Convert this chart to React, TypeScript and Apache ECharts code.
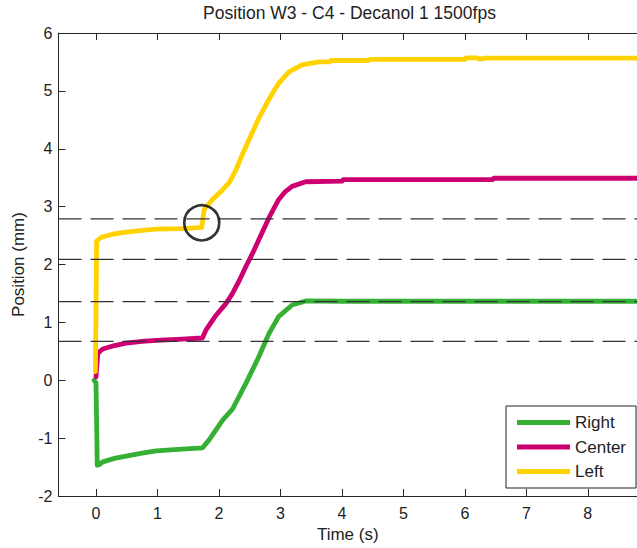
import React, { useEffect, useRef } from "react";
import * as echarts from "echarts";

const titleText = "Position W3 - C4 - Decanol 1 1500fps";
const xTicks = [0, 1, 2, 3, 4, 5, 6, 7, 8];
const yTicks = [-2, -1, 0, 1, 2, 3, 4, 5, 6];

const rightT = [-0.03, 0.0, 0.01, 0.02, 0.05, 0.11, 0.3, 0.49, 0.75, 0.98, 1.4, 1.73, 1.84, 2.06, 2.22, 2.44, 2.65, 2.81, 2.97, 3.19, 3.41, 4.0, 8.8];
const rightY = [0.0, -0.05, -0.7, -1.47, -1.46, -1.41, -1.35, -1.31, -1.26, -1.22, -1.19, -1.17, -1.03, -0.69, -0.5, -0.05, 0.41, 0.8, 1.1, 1.3, 1.37, 1.365, 1.365];

const centerT = [0.0, 0.01, 0.03, 0.11, 0.3, 0.49, 0.75, 0.98, 1.4, 1.73, 1.79, 1.95, 2.11, 2.22, 2.33, 2.44, 2.55, 2.65, 2.81, 2.97, 3.08, 3.19, 3.41, 4.0, 4.02, 6.45, 6.47, 8.8];
const centerY = [0.06, 0.2, 0.47, 0.54, 0.6, 0.64, 0.67, 0.69, 0.71, 0.73, 0.87, 1.12, 1.32, 1.5, 1.72, 1.97, 2.2, 2.43, 2.8, 3.12, 3.26, 3.35, 3.43, 3.44, 3.465, 3.465, 3.49, 3.49];

const leftT = [-0.01, 0.0, 0.01, 0.05, 0.11, 0.3, 0.49, 0.75, 0.98, 1.41, 1.72, 1.74, 1.76, 1.89, 2.05, 2.17, 2.27, 2.4, 2.49, 2.65, 2.81, 2.97, 3.14, 3.35, 3.62, 3.8, 3.82, 4.43, 4.45, 6.0, 6.02, 6.2, 6.22, 6.3, 6.32, 8.8];
const leftY = [0.15, 1.2, 2.4, 2.44, 2.48, 2.53, 2.56, 2.59, 2.61, 2.62, 2.64, 2.8, 2.95, 3.12, 3.28, 3.42, 3.62, 3.95, 4.16, 4.53, 4.85, 5.13, 5.33, 5.45, 5.5, 5.5, 5.525, 5.525, 5.545, 5.545, 5.57, 5.57, 5.555, 5.555, 5.565, 5.565];

const dashLevels = [2.79, 2.09, 1.36, 0.67];
const circleCenter = [1.72, 2.72];

const seriesNames = ["Right", "Center", "Left"];
const seriesColors = ["#35b035", "#cc0070", "#ffd200"];

const FONT = "'Liberation Sans', Arial, sans-serif";
const TEXT = "#222";
const AXIS = "#262626";
const X_MIN = -0.61;
const X_MAX = 8.8;

const zip = (t: number[], y: number[]) => t.map((v, i) => [v, y[i]]);

export default function App() {
  const ref = useRef<HTMLDivElement>(null);
  useEffect(() => {
    if (!ref.current) return;
    const chart = echarts.init(ref.current, undefined, { renderer: "svg" });
    const dataSets = [zip(rightT, rightY), zip(centerT, centerY), zip(leftT, leftY)];
    const lineSeries = seriesNames.map((name, i) => ({
      name,
      type: "line",
      data: dataSets[i],
      showSymbol: false,
      symbol: "none",
      color: seriesColors[i],
      lineStyle: { color: seriesColors[i], width: 4.8, cap: "round", join: "round" },
      z: 2 + i,
    }));
    const dashSeries = dashLevels.map((v) => ({
      type: "line",
      data: [[X_MIN, v], [X_MAX, v]],
      symbol: "none",
      silent: true,
      lineStyle: { color: "#333", width: 1.3, type: [23, 9] },
      z: 10,
    }));
    chart.setOption({
      animation: false,
      backgroundColor: "#fff",
      graphic: [
        {
          type: "text",
          x: 349.5,
          y: 4,
          style: {
            text: titleText,
            fill: TEXT,
            font: `17.5px ${FONT}`,
            align: "center",
            textAlign: "center",
            verticalAlign: "top",
            textVerticalAlign: "top",
          },
        },
      ],
      grid: { left: 58.5, top: 33, width: 581, height: 463 },
      legend: {
        data: seriesNames,
        orient: "vertical",
        left: 506,
        top: 406,
        icon: "rect",
        itemWidth: 53,
        itemHeight: 5,
        itemGap: 7.5,
        padding: [8, 10, 8, 11],
        borderColor: "#222",
        borderWidth: 1,
        backgroundColor: "#fff",
        textStyle: { fontFamily: FONT, fontSize: 17, color: TEXT },
        z: 20,
      },
      xAxis: [
        {
          type: "value",
          min: X_MIN,
          max: X_MAX,
          name: "Time (s)",
          nameLocation: "middle",
          nameGap: 28,
          nameTextStyle: { fontFamily: FONT, fontSize: 17, color: TEXT },
          axisLine: { show: true, onZero: false, lineStyle: { color: AXIS, width: 1 } },
          axisTick: { show: true, inside: true, length: 7, lineStyle: { color: AXIS }, customValues: xTicks },
          axisLabel: { fontFamily: FONT, fontSize: 16, color: TEXT, margin: 9, customValues: xTicks },
          splitLine: { show: false },
        },
        {
          type: "value",
          position: "top",
          min: X_MIN,
          max: X_MAX,
          axisLine: { show: true, onZero: false, lineStyle: { color: AXIS, width: 1 } },
          axisTick: { show: true, inside: true, length: 7, lineStyle: { color: AXIS }, customValues: xTicks },
          axisLabel: { show: false },
          splitLine: { show: false },
        },
      ],
      yAxis: {
        type: "value",
        min: -2,
        max: 6,
        interval: 1,
        name: "Position (mm)",
        nameLocation: "middle",
        nameGap: 32,
        nameTextStyle: { fontFamily: FONT, fontSize: 17, color: TEXT },
        axisLine: { show: true, onZero: false, lineStyle: { color: AXIS, width: 1 } },
        axisTick: { show: true, inside: true, length: 7, lineStyle: { color: AXIS } },
        axisLabel: {
          fontFamily: FONT,
          fontSize: 16,
          color: TEXT,
          margin: 6,
          customValues: yTicks,
        },
        splitLine: { show: false },
      },
      series: [
        ...lineSeries,
        ...dashSeries,
        {
          type: "scatter",
          data: [circleCenter],
          symbol: "circle",
          symbolSize: 35,
          silent: true,
          itemStyle: { color: "rgba(0,0,0,0)", borderColor: "#000", borderWidth: 2.7 },
          z: 12,
        },
      ],
    });
    return () => chart.dispose();
  }, []);
  return (
    <div
      ref={ref}
      style={{ position: "fixed", left: 0, top: 0, width: 637, height: 548, background: "#fff" }}
    />
  );
}
